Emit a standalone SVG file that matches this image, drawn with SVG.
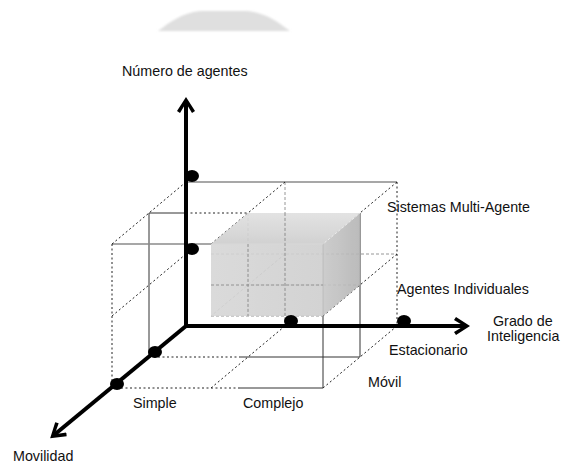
<svg xmlns="http://www.w3.org/2000/svg" width="561" height="463" viewBox="0 0 561 463">
  <style>
    text { font-family: "Liberation Sans", Arial, sans-serif; font-size: 14.3px; fill: #111; }
    .axis { fill: none; stroke: #000; stroke-width: 4; stroke-linejoin: miter; }
    .edge { fill: none; stroke: #333; stroke-width: 1; }
    .dot-edge { fill: none; stroke: #222; stroke-width: 1; stroke-dasharray: 2 2.5; }
    .grey-edge { fill: none; stroke: #8a8a8a; stroke-width: 1.3; }
    .faint { fill: none; stroke: #8a8a8a; stroke-width: 0.9; stroke-dasharray: 3 2; }
    .mark { fill: #000; }
  </style>
  <defs>
    <marker id="head" markerUnits="userSpaceOnUse" viewBox="0 -10 17 20" markerWidth="17" markerHeight="20" refX="11" refY="0" orient="auto-start-reverse">
      <path d="M16,0 L2,-9 L0,-6 L10,0 L0,6 L2,9 Z" fill="#000"/>
    </marker>
    <linearGradient id="topFace" x1="0" y1="1" x2="0" y2="0">
      <stop offset="0" stop-color="#cdcdcd"/>
      <stop offset="1" stop-color="#e0e0e0"/>
    </linearGradient>
    <linearGradient id="frontFace" x1="0" y1="0" x2="1" y2="0">
      <stop offset="0" stop-color="#d6d6d6"/>
      <stop offset="1" stop-color="#cfcfcf"/>
    </linearGradient>
    <linearGradient id="sideFace" x1="0" y1="0" x2="1" y2="0">
      <stop offset="0" stop-color="#c8c8c8"/>
      <stop offset="1" stop-color="#b4b4b4"/>
    </linearGradient>
    <filter id="soft" x="-10%" y="-30%" width="120%" height="160%">
      <feGaussianBlur stdDeviation="0.8"/>
    </filter>
  </defs>

  <!-- faint grey shape at the top edge -->
  <path d="M158,31 C170,22 182,13 200,11 L248,11 C266,13 278,22 290,31 Z" fill="#dfdfdf" filter="url(#soft)"/>

  <!-- wireframe: three parallel planes and the edges joining them -->
  <g id="grid">
    <!-- back plane -->
    <path class="grey-edge" d="M186,182 H397"/>
    <path class="dot-edge" d="M397,182 V326"/>
    <path class="faint" d="M211,254 H397"/>
    <path class="faint" d="M285,182 V326"/>
    <!-- middle plane -->
    <path class="edge" d="M149,213 H186"/>
    <path class="dot-edge" d="M186,213 H248"/>
    <path class="edge" d="M149,213 V357"/>
    <path class="edge" d="M360,213 V357"/>
    <path class="dot-edge" d="M149,357 H240"/>
    <path class="edge" d="M240,357 H360"/>
    <path class="faint" d="M248,285 H360"/>
    <path class="faint" d="M248,213 V316"/>
    <!-- front plane -->
    <path class="grey-edge" d="M112,244 H323"/>
    <path class="dot-edge" d="M112,244 V388"/>
    <path class="edge" d="M323,244 V388"/>
    <path class="dot-edge" d="M112,388 H240"/>
    <path class="edge" d="M240,388 H323"/>
    <path class="faint" d="M211,316 H323"/>
    <!-- depth edges -->
    <path class="dot-edge" d="M186,182 L112,244"/>
    <path class="dot-edge" d="M186,254 L112,316"/>
    <path class="dot-edge" d="M285,182 L211,244"/>
    <path class="dot-edge" d="M397,182 L323,244"/>
    <path class="dot-edge" d="M397,254 L323,316"/>
    <path class="dot-edge" d="M397,326 L323,388"/>
    <path class="dot-edge" d="M285,326 L211,388"/>
    <path class="faint" d="M285,254 L211,316"/>
  </g>

  <!-- shaded block -->
  <g id="block" opacity="0.9">
    <polygon points="211,244 248,213 360,213 323,244" fill="url(#topFace)"/>
    <polygon points="323,244 360,213 360,285 323,316" fill="url(#sideFace)"/>
    <rect x="211" y="244" width="112" height="72" fill="url(#frontFace)"/>
    <path d="M211,244 H323 L360,213" fill="none" stroke="#e8e8e8" stroke-width="1"/>
  </g>
  <g id="block-lines">
    <path class="faint" d="M211,285 H323"/>
    <path class="faint" d="M285,213 V316"/>
    <path class="faint" d="M248,244 V316"/>
  </g>

  <!-- axes -->
  <g id="axes">
    <path class="axis" d="M186,102 V326 H465" marker-start="url(#head)" marker-end="url(#head)"/>
    <path class="axis" d="M186,326 L54,435" marker-end="url(#head)"/>
  </g>

  <!-- level marks on the axes -->
  <g id="marks">
    <ellipse class="mark" cx="192" cy="176" rx="7" ry="6"/>
    <ellipse class="mark" cx="192" cy="249" rx="7" ry="6"/>
    <ellipse class="mark" cx="291" cy="321" rx="7" ry="6"/>
    <ellipse class="mark" cx="404" cy="321" rx="7" ry="6"/>
    <ellipse class="mark" cx="155" cy="352" rx="7" ry="6"/>
    <ellipse class="mark" cx="117" cy="384" rx="7" ry="6"/>
  </g>

  <!-- labels -->
  <g id="labels">
    <text x="122" y="76">Número de agentes</text>
    <text x="387" y="212">Sistemas Multi-Agente</text>
    <text x="397" y="294">Agentes Individuales</text>
    <text x="493" y="326">Grado de</text>
    <text x="487" y="341">Inteligencia</text>
    <text x="389" y="355">Estacionario</text>
    <text x="368" y="387">Móvil</text>
    <text x="133" y="408">Simple</text>
    <text x="243" y="408">Complejo</text>
    <text x="13" y="461">Movilidad</text>
  </g>
</svg>
